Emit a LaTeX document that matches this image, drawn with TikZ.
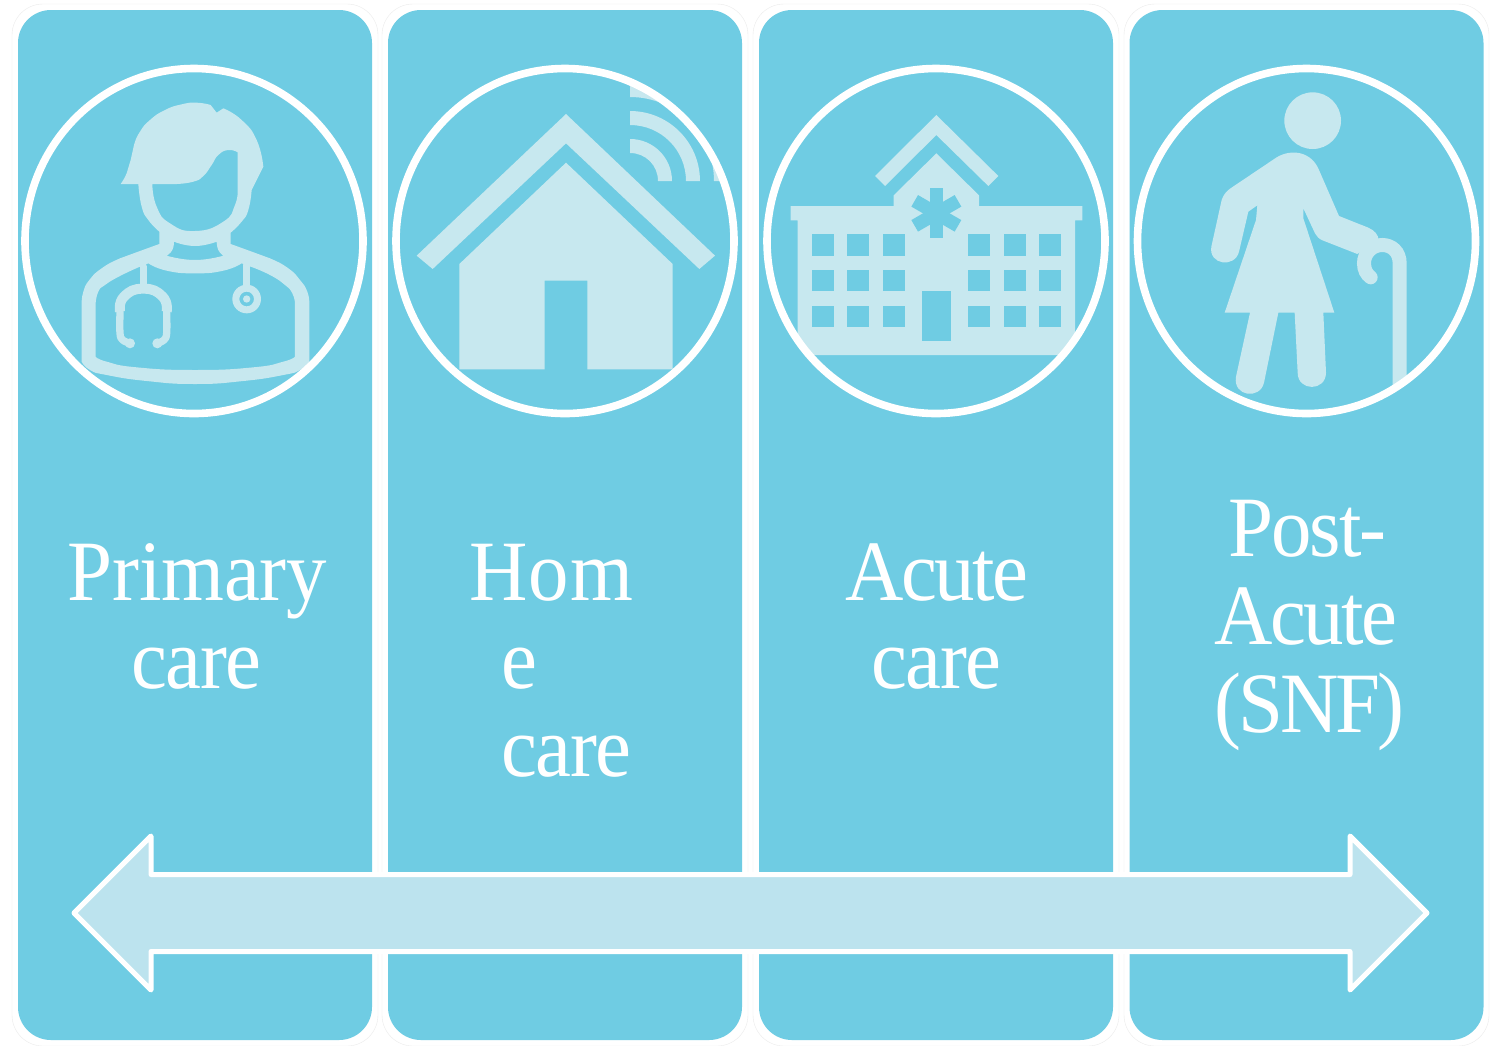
\documentclass[tikz,border=0pt]{standalone}
\usepackage{fontspec}
\usetikzlibrary{shapes.geometric}
\setmainfont{Liberation Serif}
\definecolor{panelblue}{HTML}{6FCCE3}
\definecolor{iconpale}{HTML}{C7E8EF}
\definecolor{arrowpale}{HTML}{BCE3EE}
\tikzset{
  halo/.style={draw=black!8,line width=.4pt,rounded corners=31pt},
  panel/.style={fill=panelblue,rounded corners=33pt,minimum width=354pt,minimum height=1030pt,inner sep=0pt},
  ringnode/.style={ellipse,draw=white,line width=7.6pt,minimum width=338pt,minimum height=345pt,inner sep=0pt},
  icon/.style={fill=iconpale},
  hole/.style={fill=panelblue},
  tube/.style={draw=iconpale,line width=7.3pt,line cap=round,line join=round},
  tubethick/.style={draw=iconpale,line width=10pt,line join=round},
  wordlabel/.style={text=white,anchor=base west,inner sep=0pt,xscale=.94,transform shape,font=\fontsize{86}{88}\selectfont\addfontfeatures{LetterSpace=#1}},
  flow/.style={fill=arrowpale,draw=white,line width=5pt,line join=round},
}
\begin{document}
\begin{tikzpicture}[x=1pt,y=-1pt]
\useasboundingbox[fill=white] (0,0) rectangle (1499,1045);
% faint outer outlines
\draw[halo] (12,4) rectangle (378,1046);
\draw[halo] (382,4) rectangle (748,1046);
\draw[halo] (753,4) rectangle (1119,1046);
\draw[halo] (1124,4) rectangle (1489,1046);
% panels
\node[panel] (p1) at (195,525) {};
\node[panel] (p2) at (565,525) {};
\node[panel] (p3) at (936,525) {};
\node[panel] (p4) at (1306.5,525) {};
% doctor
\begin{scope}[shift={(0,50)},scale=0.33333]
\fill[icon,even odd rule]
  (362,402) -- plot[smooth,tension=.9] coordinates {(362,402) (380,370) (392,330) (402,285) (420,245) (450,210) (495,180) (545,163) (590,158) (632,165)}
  -- (650,188) -- plot[smooth,tension=.9] coordinates {(670,175) (725,210) (770,270) (790,350)}
  -- (755,420) -- plot[smooth,tension=.9] coordinates {(755,420) (745,480) (725,515) (692,548)}
  -- (692,582) -- plot[smooth,tension=.9] coordinates {(692,582) (750,603) (810,625) (865,655) (900,690) (922,725) (928,760)}
  -- (928,935) -- plot[smooth,tension=.9] coordinates {(928,935) (900,960) (850,975) (730,993) (585,1002) (440,993) (320,975) (270,960) (245,935)}
  -- (245,760) -- plot[smooth,tension=.9] coordinates {(245,760) (250,725) (268,690) (305,655) (360,625) (420,603) (478,582)}
  -- (478,545) -- plot[smooth,tension=.9] coordinates {(478,545) (445,510) (425,470) (415,402)} -- cycle
  (457,402) -- (530,402) -- plot[smooth,tension=.9] coordinates {(530,402) (580,395) (610,378) (635,345) (655,315) (685,300) (713,307)}
  -- (713,415) -- plot[smooth,tension=.9] coordinates {(713,415) (705,465) (670,515) (585,543) (510,520) (470,470) (457,402)} -- cycle
  (522,575) -- plot[smooth,tension=.9] coordinates {(522,575) (585,588) (650,575)}
  -- plot[smooth,tension=.9] coordinates {(650,575) (655,600) (670,617)}
  -- plot[smooth,tension=.9] coordinates {(670,617) (585,630) (500,617)}
  -- plot[smooth,tension=.9] coordinates {(500,617) (517,600) (522,575)} -- cycle
  (420,650) -- (445,640) -- plot[smooth,tension=.9] coordinates {(445,640) (500,662) (585,670) (670,662) (725,640)}
  -- plot[smooth,tension=.9] coordinates {(752,650) (810,675) (855,705) (877,730) (885,760)}
  -- (885,920) -- plot[smooth,tension=.9] coordinates {(885,920) (850,935) (760,952) (585,960) (410,952) (320,935) (287,920)}
  -- (287,760) -- plot[smooth,tension=.9] coordinates {(287,760) (295,725) (315,705) (360,678) (420,650)} -- cycle;
\draw[tube] (430,650) -- (430,705);
\draw[tube] plot[smooth,tension=.6] coordinates {(390,880) (368,870) (360,850) (360,785)};
\draw[tube] plot[smooth,tension=.6] coordinates {(500,785) (500,850) (492,870) (472,880)};
\draw[tubethick] plot[smooth,tension=.9] coordinates {(360,785) (372,740) (430,716) (488,740) (500,785)};
\fill[icon] (390,880) circle (15) (472,880) circle (15);
\draw[tube] (740,645) -- (740,710);
\fill[icon,even odd rule] (740,747) circle (43) (740,747) circle (22) (740,747) circle (11);
\end{scope}
% house
\begin{scope}
\clip (565,241) ellipse (169 and 172.5);
\begin{scope}[shift={(380,50)},scale=0.33333]
\fill[icon] (558,192) -- (1005,617) -- (958,657) -- (558,280) -- (158,657) -- (110,617) -- cycle;
\fill[icon] (558,338) -- (878,642) -- (878,958) -- (622,958) -- (622,692) -- (494,692) -- (494,958) -- (238,958) -- (238,642) -- cycle;
\fill[icon] (750,267) .. controls (820,267) and (876,323) .. (876,393) -- (834,393) .. controls (834,346) and (797,309) .. (750,309) -- cycle;
\fill[icon] (750,183) .. controls (866,183) and (960,277) .. (960,393) -- (918,393) .. controls (918,300) and (843,225) .. (750,225) -- cycle;
\fill[icon] (750,99) .. controls (912,99) and (1044,231) .. (1044,393) -- (1002,393) .. controls (1002,254) and (889,141) .. (750,141) -- cycle;
\end{scope}
\end{scope}
% hospital
\begin{scope}
\clip (936,241) ellipse (169 and 172.5);
\begin{scope}[shift={(750,50)},scale=0.33333]
\fill[icon] (559,195) -- (745,378) -- (715,408) -- (559,255) -- (405,408) -- (375,378) -- cycle;
\fill[icon] (559,310) -- (687,436) -- (687,468) -- (997,468) -- (997,511) -- (975,511) -- (975,915) -- (143,915) -- (143,511) -- (122,511) -- (122,468) -- (431,468) -- (431,436) -- cycle;
\foreach \wx in {186,292,400,655,762,868}
  \foreach \wy in {553,660,767}
    \fill[hole] (\wx,\wy) rectangle ++(65,64);
\fill[hole] (516,724) rectangle (603,873);
\foreach \sa in {0,60,120}
  \fill[hole,rotate around={\sa:(559,490)}] (539,415) rectangle (579,565);
\end{scope}
\end{scope}
% patient with cane
\begin{scope}
\clip (1306.5,241) ellipse (169 and 172.5);
\begin{scope}[shift={(1120,50)},scale=0.33333]
\fill[icon] (578,212) circle (85);
\fill[icon] (470,322) .. controls (515,295) and (575,305) .. (597,360) -- (657,498) -- (745,533) .. controls (765,542) and (775,555) .. (776,570)
  -- (712,612) -- (605,570) .. controls (595,565) and (590,558) .. (585,550) -- (550,475) -- (550,505) -- (643,788) -- (610,788) -- (618,968)
  .. controls (618,1025) and (533,1025) .. (533,968) -- (524,788) -- (475,788) -- (432,998) .. controls (420,1050) and (338,1040) .. (348,980)
  -- (390,788) -- (314,788) -- (408,510) -- (412,466) -- (385,485) -- (357,605) .. controls (345,655) and (265,645) .. (274,590) -- (305,450) .. controls (310,435) and (318,425) .. (330,416) -- cycle;
\draw[draw=iconpale,line width=14pt,line cap=round] (839,1060) -- (839,640) .. controls (839,605) and (815,585) .. (787,585) .. controls (755,585) and (732,610) .. (732,640) .. controls (732,660) and (740,673) .. (752,682);
\end{scope}
\end{scope}
% rings
\node[ringnode] (r1) at (194,241) {};
\node[ringnode] (r2) at (565,241) {};
\node[ringnode] (r3) at (936,241) {};
\node[ringnode] (r4) at (1306.5,241) {};
% labels
\node[wordlabel=-0.3] (t1a) at (67.5,600) {Primary};
\node[wordlabel=-1.7] (t1b) at (131,688) {care};
\node[wordlabel=1.5] (t2a) at (469,600) {Hom};
\node[wordlabel=0] (t2b) at (501,688) {e};
\node[wordlabel=-1.7] (t2c) at (501,776) {care};
\node[wordlabel=-3.2] (t3a) at (845,600) {Acute};
\node[wordlabel=-1.7] (t3b) at (871,688) {care};
\node[wordlabel=-2.4] (t4a) at (1228,556) {Post-};
\node[wordlabel=-3.2] (t4b) at (1214,644) {Acute};
\node[wordlabel=-3.7] (t4c) at (1214,732) {(SNF)};
% double arrow
\draw[flow] (74,913) -- (151,836) -- (151,874.5) -- (1350,874.5) -- (1350,836) -- (1427,913) -- (1350,990) -- (1350,951.5) -- (151,951.5) -- (151,990) -- cycle;
\end{tikzpicture}
\end{document}
